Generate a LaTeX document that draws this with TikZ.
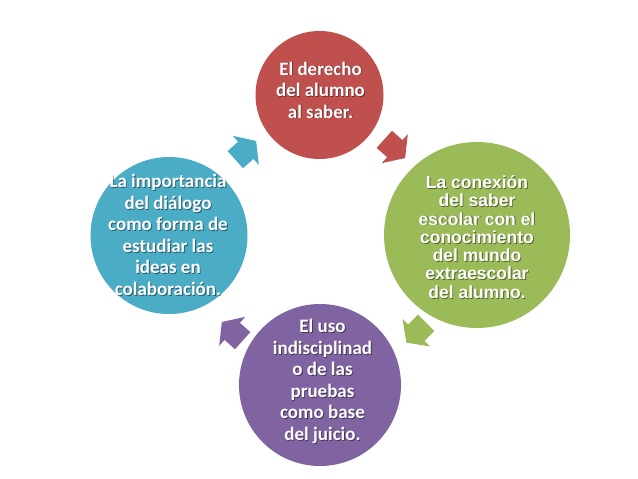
\documentclass[tikz,border=0pt]{standalone}
\usepackage{fontspec}
\setmainfont{Carlito}
\newfontfamily\arialfont{Liberation Sans}
\usetikzlibrary{calc}
\definecolor{cred}{HTML}{C0504D}
\definecolor{cgreen}{HTML}{9BBB59}
\definecolor{cpurple}{HTML}{8064A2}
\definecolor{cblue}{HTML}{4BACC6}
\tikzset{
  bubble/.style={circle, draw=none, inner sep=0pt},
  lbl/.style={align=center, font=\bfseries\fontsize{19}{21.5}\selectfont, inner sep=0pt},
  glbl/.style={align=center, font=\arialfont\bfseries\fontsize{17.5}{18.3}\selectfont, inner sep=0pt},
  shade/.style={text=black, opacity=0.45},
}
\newcommand\shtext[4]{%
  \node[#2, shade] at ($(#3)+(0.9,0.9)$) {#4};
  \node[#2, text=white] (#1) at (#3) {#4};
}
\newcommand\blockarrow[4]{%
  \coordinate (#1) at (#3);
  \fill[#2, shift={(#1)}, rotate=#4] (-13,11.5) -- (1,11.5) -- (1,19.5) -- (15,0) -- (1,-19.5) -- (1,-11.5) -- (-13,-11.5) -- cycle;
}
\begin{document}
\begin{tikzpicture}[x=1pt, y=-1pt]
\useasboundingbox (0,0) rectangle (638,479);
\fill[white] (0,0) rectangle (638,479);
% circles
\node[bubble, fill=cred, minimum size=128pt] (cr) at (319.5,95) {};
\node[bubble, fill=cgreen, minimum size=186pt] (cg) at (477,235) {};
\node[bubble, fill=cpurple, minimum size=162pt] (cp) at (320,385) {};
\node[bubble, fill=cblue, minimum size=157pt] (cb) at (169,235.5) {};
% arrows
\blockarrow{ar}{cred}{394,148}{-42}
\blockarrow{ag}{cgreen}{417,332}{-135}
\blockarrow{ap}{cpurple}{233,332}{138}
\blockarrow{ab}{cblue}{245,151}{42}
% texts
\shtext{tr}{lbl}{320.5,90}{El derecho\\del alumno\\al saber.}
\shtext{tg}{glbl}{477,237}{La conexión\\del saber\\escolar con el\\conocimiento\\del mundo\\extraescolar\\del alumno.}
\shtext{tp}{lbl}{322.5,381.5}{El uso\\indisciplinad\\o de las\\pruebas\\como base\\del juicio.}
\shtext{tb}{lbl}{168,235}{La importancia\\del diálogo\\como forma de\\estudiar las\\ideas en\\colaboración.}
\end{tikzpicture}
\end{document}
